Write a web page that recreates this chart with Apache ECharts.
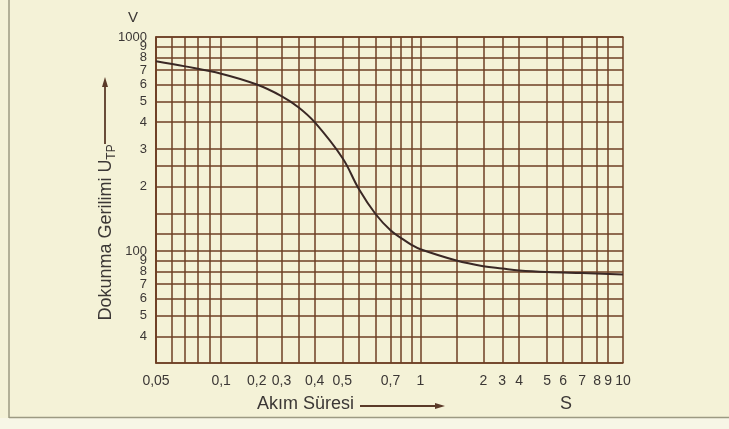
<!DOCTYPE html>
<html><head><meta charset="utf-8">
<script src="https://cdn.jsdelivr.net/npm/echarts@6/dist/echarts.min.js"></script>
<style>html,body{margin:0;padding:0;background:#f4f2d7;}#c{width:729px;height:429px;}</style>
</head><body><div id="c"></div>
<script>
// The chart's own (non-uniform) time scale: time in seconds -> axis unit
const xScaleTimes = [0.05,0.06,0.07,0.08,0.09,0.1,0.2,0.3,0.35,0.4,0.5,0.55,0.6,0.7,0.8,0.9,1,1.5,2,3,4,5,6,7,8,9,10];
const xScaleUnits = [0,15.7,29.3,41.7,54.3,65.3,101,125.7,142.7,159,186.7,203.3,220,235,245.7,256,265,301,328,347,364,392,408,427,442,453,468];
// grid lines and tick labels
const xGridTimes = [0.05,0.06,0.07,0.08,0.09,0.1,0.2,0.3,0.35,0.4,0.5,0.55,0.6,0.7,0.8,0.9,1,1.5,2,3,4,5,6,7,8,9,10];
const xLabelTimes = [0.05,0.1,0.2,0.3,0.4,0.5,0.7,1,2,3,4,5,6,7,8,9,10];
const xLabelTexts = ['0,05','0,1','0,2','0,3','0,4','0,5','0,7','1','2','3','4','5','6','7','8','9','10'];
const yGridValues = [1000,900,800,700,600,500,400,300,250,200,150,120,100,90,80,70,60,50,40,30];
const yTopLabelValues = [1000];
const yLabelValues = [900,800,700,600,500,400,300,200,100,90,80,70,60,50,40];
const yLabelTexts = ['9','8','7','6','5','4','3','2','100','9','8','7','6','5','4'];
// curve: touch voltage U_TP (V) vs current duration (s)
const curveTime = [0.05,0.07,0.1,0.2,0.3,0.35,0.4,0.5,0.55,0.6,0.7,0.8,0.9,1,1.5,2,3,4,5,7,10];
const curveVoltage = [770,729,674,600,530,470,400,273,195,149,125,115,107,102,90.4,85,82.9,81.2,79.8,78.9,77.8];

function xScale(t){
  for(let i=0;i<xScaleTimes.length-1;i++){
    const a=xScaleTimes[i], b=xScaleTimes[i+1];
    if(t>=a && t<=b){
      return xScaleUnits[i] + (t-a)/(b-a)*(xScaleUnits[i+1]-xScaleUnits[i]);
    }
  }
  return t<xScaleTimes[0]?xScaleUnits[0]:xScaleUnits[xScaleUnits.length-1];
}
// order labels so the first/last pair in the list are not crowded (avoids auto-hiding)
const yLabelOrder = [yLabelValues[5]].concat(yLabelValues.filter((v,i)=>i!==5));
const gridColor='#6e3f24';
const txtColor='#3b3735';
const chart=echarts.init(document.getElementById('c'),null,{renderer:'canvas'});
const xLabelUnits = xLabelTimes.map(xScale);
chart.setOption({
  backgroundColor:'#f4f2d7',
  animation:false,
  grid:{left:156,right:106,top:37,bottom:66,containLabel:false},
  xAxis:[{
    type:'value',min:-0.01,max:468.01,
    axisLine:{show:true,lineStyle:{color:gridColor,width:1.5}},
    axisTick:{show:false,customValues:xGridTimes.map(xScale)},
    axisLabel:{customValues:xLabelUnits,showMinLabel:true,showMaxLabel:true,hideOverlap:false,color:txtColor,fontFamily:'Liberation Sans',fontSize:14,margin:11,
      formatter:function(v){let best=0,bd=1e9;xLabelUnits.forEach((u,i)=>{const d=Math.abs(u-v);if(d<bd){bd=d;best=i;}});return xLabelTexts[best];}},
    splitLine:{show:true,lineStyle:{color:gridColor,width:1.5}}
  },{
    type:'value',min:0,max:468,position:'top',
    axisLine:{show:true,lineStyle:{color:gridColor,width:1.5}},
    axisTick:{show:false},axisLabel:{show:false},splitLine:{show:false}
  }],
  yAxis:[{
    type:'log',min:29.999,max:1000.02,logBase:10,
    axisLine:{show:true,lineStyle:{color:gridColor,width:1.5}},
    axisTick:{show:false,customValues:yGridValues},
    axisLabel:{customValues:yLabelOrder,showMinLabel:true,showMaxLabel:true,hideOverlap:false,color:txtColor,fontFamily:'Liberation Sans',fontSize:13,margin:9,
      formatter:function(v){let best=0,bd=1e9;yLabelValues.forEach((u,i)=>{const d=Math.abs(Math.log(u)-Math.log(v));if(d<bd){bd=d;best=i;}});return yLabelTexts[best];}},
    splitLine:{show:true,lineStyle:{color:gridColor,width:1.5}}
  },{
    type:'log',min:30,max:1000,position:'right',
    axisLine:{show:true,lineStyle:{color:gridColor,width:1.5}},
    axisTick:{show:false},axisLabel:{show:false},splitLine:{show:false}
  },{
    type:'log',min:29.999,max:1000.02,position:'left',
    axisLine:{show:false},axisTick:{show:false},splitLine:{show:false},
    axisLabel:{customValues:yTopLabelValues,showMaxLabel:true,color:txtColor,fontFamily:'Liberation Sans',fontSize:13,margin:9,padding:[0,0,7,0],
      formatter:function(v){return String(Math.round(v));}}
  }],
  series:[{
    type:'line',smooth:0.4,symbol:'none',
    lineStyle:{color:'#3a2825',width:2},
    data:curveTime.map((t,i)=>[xScale(t),curveVoltage[i]])
  }],
  graphic:[
    {type:'rect',shape:{x:0,y:418,width:729,height:11},style:{fill:'#f7f6e6'},silent:true,z:-1},
    {type:'line',shape:{x1:9,y1:0,x2:9,y2:418},style:{stroke:'#9c9a82',lineWidth:1.5}},
    {type:'line',shape:{x1:9,y1:417.5,x2:729,y2:417.5},style:{stroke:'#9c9a82',lineWidth:1.5}},
    {type:'text',x:133,y:18,style:{text:'V',fill:txtColor,font:'15px "Liberation Sans"',align:'center',verticalAlign:'middle'}},
    {type:'text',x:106,y:240,rotation:Math.PI/2,style:{text:'Dokunma Gerilimi U',fill:txtColor,font:'18px "Liberation Sans"',align:'center',verticalAlign:'middle'}},
    {type:'text',x:112,y:152,rotation:Math.PI/2,style:{text:'TP',fill:txtColor,font:'12px "Liberation Sans"',align:'center',verticalAlign:'middle'}},
    {type:'line',shape:{x1:105,y1:144,x2:105,y2:84},style:{stroke:'#5a3a28',lineWidth:1.8}},
    {type:'polygon',shape:{points:[[105,77],[102,87],[108,87]]},style:{fill:'#5a3a28'}},
    {type:'text',x:257,y:404,style:{text:'Akım Süresi',fill:txtColor,font:'18px "Liberation Sans"',align:'left',verticalAlign:'middle'}},
    {type:'line',shape:{x1:360,y1:406,x2:437,y2:406},style:{stroke:'#5a3a28',lineWidth:1.8}},
    {type:'polygon',shape:{points:[[445,406],[435,403],[435,409]]},style:{fill:'#5a3a28'}},
    {type:'text',x:566,y:404,style:{text:'S',fill:txtColor,font:'18px "Liberation Sans"',align:'center',verticalAlign:'middle'}}
  ]
});
</script></body></html>
